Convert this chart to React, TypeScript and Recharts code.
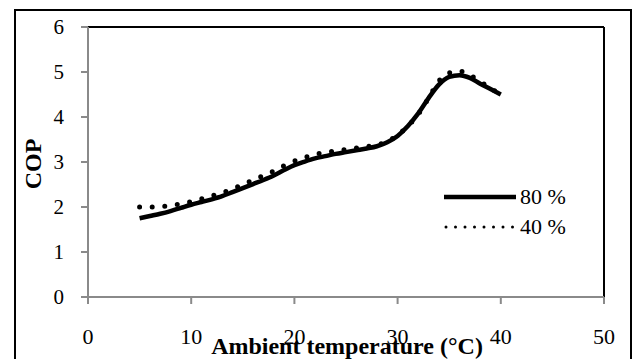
import { LineChart, Line, XAxis, YAxis, ReferenceLine } from "recharts"

const temps = [5, 6, 7, 8, 9, 10, 11, 12, 13, 14, 15, 16, 17, 18, 19, 20, 21, 22, 23, 24, 25, 26, 27, 28, 29, 30, 31, 32, 33, 34, 35, 36, 37, 38, 39, 40]
const cop80 = [1.75, 1.8, 1.85, 1.91, 1.98, 2.05, 2.11, 2.17, 2.24, 2.33, 2.42, 2.51, 2.6, 2.7, 2.82, 2.93, 3.01, 3.08, 3.13, 3.18, 3.22, 3.26, 3.3, 3.35, 3.44, 3.58, 3.8, 4.08, 4.42, 4.72, 4.89, 4.93, 4.87, 4.74, 4.62, 4.5]
const cop40 = [2.0, 2.0, 2.01, 2.03, 2.07, 2.12, 2.18, 2.25, 2.32, 2.4, 2.5, 2.6, 2.7, 2.8, 2.92, 3.02, 3.1, 3.17, 3.21, 3.25, 3.28, 3.31, 3.34, 3.38, 3.46, 3.6, 3.8, 4.06, 4.42, 4.8, 4.98, 5.02, 4.93, 4.79, 4.64, 4.5]
const seriesNames = ["80 %", "40 %"]
const xTicks = [0, 10, 20, 30, 40, 50]
const yTicks = [0, 1, 2, 3, 4, 5, 6]

const data = temps.map((t, i) => ({ t, r80: cop80[i], r40: cop40[i] }))

const serif = "Liberation Serif"

export default function App() {
  return (
    <div style={{ position: "absolute", left: 0, top: 0, width: 632, height: 359, fontFamily: serif }}>
      <div
        style={{
          position: "absolute",
          left: 14,
          top: 9,
          width: 618,
          height: 360,
          border: "2px solid #000",
          boxSizing: "border-box",
        }}
      />
      <LineChart width={632} height={359} data={data} margin={{ top: 27, right: 28, left: 0, bottom: 0 }}>
        <XAxis
          dataKey="t"
          type="number"
          domain={[0, 50]}
          ticks={xTicks}
          height={62}
          stroke="#8a8a8a"
          strokeWidth={2}
          tickSize={7}
          tickMargin={24}
          tick={{ fill: "#000", fontSize: 22, fontFamily: serif }}
        />
        <YAxis
          type="number"
          domain={[0, 6]}
          ticks={yTicks}
          width={88}
          stroke="#8a8a8a"
          strokeWidth={2}
          tickSize={7}
          tickMargin={17}
          tick={{ fill: "#000", fontSize: 21, fontFamily: serif }}
        />
        <ReferenceLine y={6} stroke="#000" strokeWidth={2} />
        <ReferenceLine x={50} stroke="#000" strokeWidth={2} />
        <Line
          dataKey="r80"
          name={seriesNames[0]}
          type="monotone"
          stroke="#000"
          strokeWidth={4.5}
          dot={false}
          isAnimationActive={false}
        />
        <Line
          dataKey="r40"
          name={seriesNames[1]}
          type="monotone"
          stroke="#000"
          strokeWidth={5}
          strokeDasharray="0 12.6"
          strokeLinecap="round"
          dot={false}
          isAnimationActive={false}
        />
      </LineChart>
      <div style={{ position: "absolute", left: 444, top: 182, fontSize: 22, lineHeight: "30px" }}>
        {seriesNames.map((name, i) => (
          <div key={name} style={{ display: "flex", alignItems: "center" }}>
            <svg width={74} height={10}>
              {i === 0 ? (
                <line x1={0} y1={5} x2={72} y2={5} stroke="#000" strokeWidth={4.5} />
              ) : (
                <line x1={2} y1={5} x2={70} y2={5} stroke="#000" strokeWidth={3} strokeDasharray="0 9.5" strokeLinecap="round" />
              )}
            </svg>
            <span style={{ marginLeft: 2 }}>{name}</span>
          </div>
        ))}
      </div>
      <div
        style={{
          position: "absolute",
          left: 347,
          top: 333,
          transform: "translateX(-50%)",
          fontSize: 24,
          fontWeight: "bold",
          whiteSpace: "nowrap",
          lineHeight: "26px",
        }}
      >
        Ambient temperature (°C)
      </div>
      <div
        style={{
          position: "absolute",
          left: 33,
          top: 164,
          transform: "translate(-50%, -50%) rotate(-90deg)",
          fontSize: 24,
          fontWeight: "bold",
          whiteSpace: "nowrap",
          lineHeight: "26px",
        }}
      >
        COP
      </div>
    </div>
  )
}
